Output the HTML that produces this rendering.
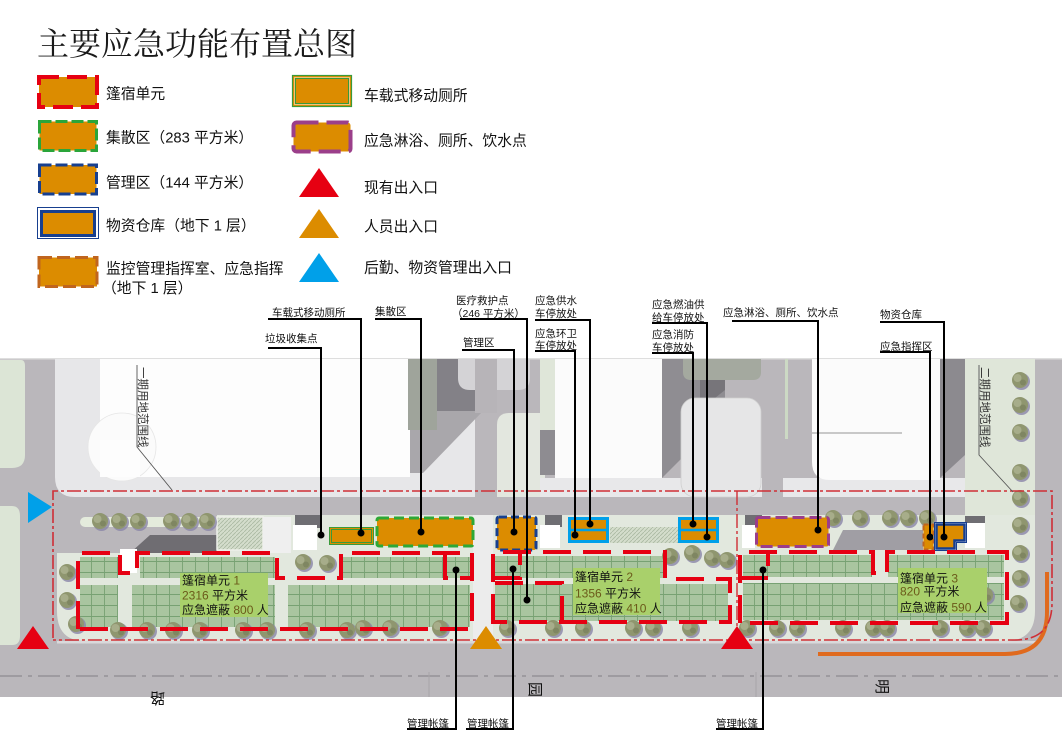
<!DOCTYPE html>
<html><head><meta charset="utf-8">
<style>
html,body{margin:0;padding:0;background:#fff;}
body{width:1062px;height:741px;overflow:hidden;}
svg{display:block;}
.t{font-family:"Liberation Sans","Noto Sans CJK SC",sans-serif;}
.s{font-family:"Liberation Sans","Noto Sans CJK SC",sans-serif;font-size:10.5px;fill:#111;}
.u{font-family:"Liberation Sans","Noto Sans CJK SC",sans-serif;font-size:12px;fill:#111;}
.n{fill:#6b5a1a;}
</style></head><body>
<svg width="1062" height="741" viewBox="0 0 1062 741" xmlns="http://www.w3.org/2000/svg">
<defs>
<pattern id="tent" width="13" height="11" patternUnits="userSpaceOnUse">
<rect width="13" height="11" fill="#a9c5a0"/>
<path d="M0.5 0V11M0 0.5H13" stroke="#77a173" stroke-width="0.9"/>
</pattern>
<pattern id="hatch" width="4" height="4" patternUnits="userSpaceOnUse">
<rect width="4" height="4" fill="#d4ddcc"/><path d="M0 4L4 0" stroke="#aab8a2" stroke-width="0.8"/>
</pattern>
<g id="tr">
<circle cx="1.5" cy="1.5" r="8.5" fill="#8a84a8" opacity="0.8"/>
<circle cx="0" cy="0" r="8" fill="#8f966f"/>
<circle cx="-2.5" cy="-2" r="4" fill="#a7ad8a"/>
<circle cx="3" cy="2.5" r="3" fill="#7f8662"/>
</g>
</defs>

<!-- Title -->
<text x="37" y="55" font-family="'Noto Serif CJK SC','Liberation Serif',serif" font-size="32" fill="#1a1a1a">主要应急功能布置总图</text>

<!-- Legend left -->
<rect x="39" y="77" width="58" height="30" fill="#dc8c00" stroke="#e60012" stroke-width="4" stroke-dasharray="20 8"/>
<text class="t" x="106" y="98.5" font-size="14.8" fill="#111">篷宿单元</text>
<rect x="39.5" y="121.5" width="57" height="29" fill="#dc8c00" stroke="#2aa53a" stroke-width="3" stroke-dasharray="12 4"/>
<text class="t" x="106" y="142.5" font-size="14.8" fill="#111">集散区（283 平方米）</text>
<rect x="39.5" y="165" width="57" height="29" fill="#dc8c00" stroke="#173f8f" stroke-width="3" stroke-dasharray="12 4"/>
<text class="t" x="106" y="187.5" font-size="14.8" fill="#111">管理区（144 平方米）</text>
<rect x="37.5" y="207.5" width="61" height="31" fill="#fff" stroke="#173f8f" stroke-width="1"/>
<rect x="41.5" y="211.5" width="53" height="24" fill="#dc8c00" stroke="#173f8f" stroke-width="3"/>
<text class="t" x="106" y="230.5" font-size="14.8" fill="#111">物资仓库（地下 1 层）</text>
<rect x="39" y="257.5" width="58" height="29" fill="#dc8c00" stroke="#c0651e" stroke-width="3" stroke-dasharray="13 5"/>
<text class="t" x="106" y="273.5" font-size="14.8" fill="#111">监控管理指挥室、应急指挥</text>
<text class="t" x="102" y="293" font-size="14.8" fill="#111">（地下 1 层）</text>

<!-- Legend right -->
<rect x="292.5" y="75.5" width="59" height="31" fill="#dc8c00" stroke="#3a9a3a" stroke-width="1.2"/>
<rect x="294.5" y="77.5" width="55" height="27" fill="none" stroke="#f2c37a" stroke-width="1"/>
<rect x="295.5" y="78.5" width="53" height="25" fill="none" stroke="#3a9a3a" stroke-width="1"/>
<text class="t" x="364" y="100.5" font-size="14.8" fill="#111">车载式移动厕所</text>
<rect x="293.5" y="122.5" width="57" height="29" rx="3" fill="#dc8c00" stroke="#9b3f8a" stroke-width="4" stroke-dasharray="22 8"/>
<text class="t" x="364" y="145.5" font-size="14.8" fill="#111">应急淋浴、厕所、饮水点</text>
<polygon points="299,197 319,168 339,197" fill="#e60012"/>
<text class="t" x="364" y="192.5" font-size="14.8" fill="#111">现有出入口</text>
<polygon points="299,238 319,209 339,238" fill="#dc8c00"/>
<text class="t" x="364" y="231.5" font-size="14.8" fill="#111">人员出入口</text>
<polygon points="299,282 319,253 339,282" fill="#00a0e9"/>
<text class="t" x="364" y="272.5" font-size="14.8" fill="#111">后勤、物资管理出入口</text>

<!-- MAP BASE -->
<rect x="0" y="358" width="1062" height="339" fill="#bab7bb"/>
<rect x="0" y="358" width="1062" height="1.5" fill="#dedede"/>
<path d="M0 360H21Q25 360 25 366V455Q25 468 12 468H0Z" fill="#dce5d6"/>
<path d="M0 506H12Q20 506 20 516V636Q20 645 12 645H0Z" fill="#dce5d6"/>
<!-- left plaza -->
<path d="M55 359H475V497H75Q55 497 55 477Z" fill="#e7e7e9"/>
<rect x="100" y="359" width="310" height="118" fill="#fdfdfd"/>
<circle cx="122" cy="447" r="34" fill="#fbfbfb" stroke="#e6e6e6" stroke-width="0.8"/>
<rect x="100" y="440" width="40" height="37" fill="#fdfdfd"/>
<!-- middle darks -->
<rect x="408" y="359" width="30" height="71" fill="#9fa49b"/>
<rect x="437" y="359" width="38" height="52" fill="#838187"/>
<path d="M437 411H483L423 473H410V430H437Z" fill="#a9a7ab"/>
<path d="M458 359H530V378Q530 390 518 390H470Q458 390 458 378Z" fill="#d4d3d6"/>
<path d="M497 425Q497 413 509 413H545V497H497Z" fill="#e3e7df"/>
<rect x="475" y="359" width="22" height="54" fill="#b7b4b8"/>
<!-- right blocks -->
<rect x="540" y="478" width="222" height="19" fill="#e8e8ea"/>
<rect x="783" y="478" width="182" height="19" fill="#e8e8ea"/>
<rect x="540" y="359" width="15" height="71" fill="#dfe6d9"/>
<rect x="540" y="430" width="15" height="45" fill="#8e8c91"/>
<rect x="555" y="359" width="107" height="119" fill="#fbfbfb"/>
<path d="M662 359H725V415L662 478Z" fill="#8f8d92"/>
<path d="M700 359H725V390L700 410Z" fill="#77757a"/>
<path d="M683 359H761V372Q761 380 753 380H691Q683 380 683 372Z" fill="#a4a99f"/>
<rect x="681" y="398" width="80" height="99" rx="14" fill="#e6e6e7" stroke="#cfcfcf" stroke-width="0.8"/>
<rect x="785" y="359" width="3" height="80" fill="#ccd9c4"/>
<path d="M812 359H940V480H830Q812 480 812 462Z" fill="#fbfbfb"/>
<path d="M812 433H902" stroke="#b8b8b8" stroke-width="1.5"/>
<path d="M940 359H965V455L940 478Z" fill="#8c8a8f"/>
<rect x="965" y="359" width="70" height="201" fill="#dfe6d9"/>

<!-- SITE -->
<path d="M57 515H1035V611Q1035 641 1005 641H85Q57 641 57 611Z" fill="#e2e8de"/>
<rect x="55" y="515" width="162" height="38" fill="#bab7bb"/>
<rect x="80" y="517" width="137" height="10" rx="5" fill="#e4ebdc"/>
<polygon points="130,553 150,535 217,535 217,553" fill="#6f6d72"/>
<rect x="217" y="517" width="46" height="33" fill="url(#hatch)" stroke="#eef0ea" stroke-width="1.5"/>
<rect x="263" y="517" width="28" height="36" fill="#efefef"/>
<rect x="473" y="515" width="20" height="125" fill="#ececec"/>
<rect x="295" y="515" width="25" height="13" fill="#6f6e73"/>
<rect x="293" y="525" width="24" height="25" fill="#fff"/>
<rect x="545" y="515" width="17" height="12" fill="#6f6e73"/>
<rect x="540" y="525" width="20" height="23" fill="#fff"/>
<rect x="610" y="527" width="68" height="16" fill="url(#hatch)"/>
<rect x="745" y="515" width="17" height="10" fill="#6f6e73"/>
<rect x="742" y="525" width="13" height="23" fill="#fff"/>
<polygon points="833,550 843,530 923,530 923,550" fill="#a09ea4"/>
<rect x="965" y="516" width="20" height="9" fill="#6f6e73"/>
<rect x="965" y="523" width="20" height="25" fill="#fff"/>
<rect x="120" y="549" width="17" height="24" fill="#fff"/>

<!-- tents -->
<rect x="80" y="557" width="38" height="21" fill="url(#tent)"/>
<rect x="140" y="557" width="135" height="21" fill="url(#tent)"/>
<rect x="343" y="557" width="127" height="21" fill="url(#tent)"/>
<rect x="80" y="585" width="38" height="42" fill="url(#tent)"/>
<rect x="132" y="585" width="143" height="42" fill="url(#tent)"/>
<rect x="288" y="585" width="182" height="42" fill="url(#tent)"/>
<rect x="495" y="556" width="168" height="22" fill="url(#tent)"/>
<rect x="495" y="584" width="233" height="37" fill="url(#tent)"/>
<rect x="743" y="555" width="129" height="22" fill="url(#tent)"/>
<rect x="888" y="555" width="116" height="22" fill="url(#tent)"/>
<rect x="743" y="583" width="261" height="37" fill="url(#tent)"/>

<!-- road bottom -->
<rect x="57" y="641" width="980" height="2.5" fill="#d9d9db"/>
<path d="M0 676H1062" stroke="#8e8a8f" stroke-width="1.2" stroke-dasharray="22 6 4 6"/>
<path d="M429 672V697M756 672V697" stroke="#a8a5a9" stroke-width="1"/>
<text class="t" x="0" y="0" font-size="15" fill="#111" transform="translate(165,693) rotate(180)">路</text>
<text class="t" x="0" y="0" font-size="15" fill="#111" transform="translate(530,682) rotate(90)">园</text>
<text class="t" x="0" y="0" font-size="15" fill="#111" transform="translate(877,679) rotate(90)">明</text>

<!-- orange curve -->
<path d="M818 654H1005Q1047 654 1047 612V572" fill="none" stroke="#e06a1e" stroke-width="4"/>

<!-- trees -->
<use href="#tr" x="100" y="521"/><use href="#tr" x="119" y="521"/><use href="#tr" x="138" y="521"/>
<use href="#tr" x="171" y="521"/><use href="#tr" x="189" y="521"/><use href="#tr" x="207" y="521"/>
<use href="#tr" x="303" y="562"/><use href="#tr" x="327" y="563"/>
<use href="#tr" x="670" y="556"/><use href="#tr" x="692" y="553"/><use href="#tr" x="712" y="558"/><use href="#tr" x="727" y="560"/>
<use href="#tr" x="833" y="518"/><use href="#tr" x="860" y="518"/><use href="#tr" x="890" y="518"/><use href="#tr" x="908" y="518"/><use href="#tr" x="927" y="518"/>
<use href="#tr" x="1020" y="380"/><use href="#tr" x="1020" y="405"/><use href="#tr" x="1020" y="432"/><use href="#tr" x="1020" y="472"/><use href="#tr" x="1020" y="498"/><use href="#tr" x="1020" y="525"/><use href="#tr" x="1020" y="553"/><use href="#tr" x="1020" y="578"/><use href="#tr" x="1018" y="603"/>
<use href="#tr" x="67" y="572"/><use href="#tr" x="67" y="600"/><use href="#tr" x="76" y="624"/>
<use href="#tr" x="118" y="630"/><use href="#tr" x="147" y="630"/><use href="#tr" x="173" y="630"/><use href="#tr" x="200" y="630"/><use href="#tr" x="243" y="630"/><use href="#tr" x="267" y="630"/><use href="#tr" x="307" y="630"/><use href="#tr" x="347" y="630"/>
<use href="#tr" x="363" y="628"/><use href="#tr" x="390" y="628"/><use href="#tr" x="440" y="628"/><use href="#tr" x="507" y="628"/><use href="#tr" x="553" y="628"/><use href="#tr" x="583" y="628"/><use href="#tr" x="633" y="628"/><use href="#tr" x="653" y="628"/><use href="#tr" x="690" y="628"/>
<use href="#tr" x="747" y="628"/><use href="#tr" x="777" y="628"/><use href="#tr" x="797" y="628"/><use href="#tr" x="843" y="628"/><use href="#tr" x="873" y="628"/><use href="#tr" x="887" y="628"/><use href="#tr" x="940" y="628"/><use href="#tr" x="967" y="628"/><use href="#tr" x="983" y="628"/>
<use href="#tr" x="960" y="598"/><use href="#tr" x="985" y="595"/>

<!-- site boundary dash-dot -->
<path d="M53 638V491H1052V603Q1052 640 1015 640H53" fill="none" stroke="#cf2e35" stroke-width="1.6" stroke-dasharray="14 3 3 3"/>
<path d="M737 491V638" fill="none" stroke="#cf2e35" stroke-width="1.4" stroke-dasharray="14 3 3 3"/>

<!-- boundary labels -->
<path d="M137 365V447L172 490" fill="none" stroke="#555" stroke-width="0.9"/>
<text class="t" x="0" y="0" font-size="11.5" fill="#333" transform="translate(139,367) rotate(90)">一期用地范围线</text>
<path d="M979 365V455L1013 492" fill="none" stroke="#555" stroke-width="0.9"/>
<text class="t" x="0" y="0" font-size="11.5" fill="#333" transform="translate(981,367) rotate(90)">二期用地范围线</text>

<!-- facility boxes -->
<rect x="329.5" y="527.5" width="44" height="17" fill="#dc8c00" stroke="#3a9a3a" stroke-width="1"/>
<rect x="331.5" y="529.5" width="40" height="13" fill="none" stroke="#3a9a3a" stroke-width="1"/>
<rect x="377" y="518" width="96" height="28" rx="2" fill="#dc8c00" stroke="#2ea836" stroke-width="3" stroke-dasharray="10 5"/>
<rect x="497" y="517" width="39" height="33" rx="2" fill="#dc8c00" stroke="#173f8f" stroke-width="3" stroke-dasharray="8 4"/>
<rect x="569.5" y="518.5" width="38" height="23" fill="#dc8c00" stroke="#00a0e9" stroke-width="3"/>
<path d="M569 530H608" stroke="#00a0e9" stroke-width="2.5"/>
<rect x="679.5" y="518.5" width="38" height="23" fill="#dc8c00" stroke="#00a0e9" stroke-width="3"/>
<path d="M679 530H718" stroke="#00a0e9" stroke-width="2.5"/>
<rect x="756.5" y="517.5" width="72" height="29" rx="2" fill="#dc8c00" stroke="#9b3d8a" stroke-width="3" stroke-dasharray="12 5"/>
<rect x="923.5" y="524.5" width="10" height="25" fill="#dc8c00" stroke="#c0651e" stroke-width="2" stroke-dasharray="5 3"/>
<path d="M934.5 522.5H966.5V542.5H956.5V550.5H934.5Z" fill="#fff" stroke="#173f8f" stroke-width="1"/>
<path d="M936.5 524.5H964.5V540.5H954.5V548.5H936.5Z" fill="#dc8c00" stroke="#173f8f" stroke-width="2.5"/>

<!-- tent units (red dashed) -->
<g fill="none" stroke="#e60012" stroke-width="4" stroke-dasharray="28 12">
<path d="M78 629V553H120V573H137V553H277V578H341V553H472V629Z"/>
<path d="M445 553V578H472"/>
<path d="M493 622V552H665V579H730V622Z"/>
<path d="M493 578H520V552"/>
<path d="M495 583H562V622"/>
<path d="M740 623V552H873V573H887V552H1007V623Z"/>
<path d="M740 578H768V552"/>
</g>

<!-- unit labels -->
<rect x="180" y="573" width="88" height="44" fill="#a9d06b"/>
<text class="u" x="182" y="584.5">篷宿单元 <tspan class="n">1</tspan></text>
<text class="u" x="182" y="599.5"><tspan class="n">2316</tspan> 平方米</text>
<text class="u" x="182" y="614">应急遮蔽 <tspan class="n">800</tspan> 人</text>
<rect x="573" y="568" width="87" height="47" fill="#a9d06b"/>
<text class="u" x="575" y="581">篷宿单元 <tspan class="n">2</tspan></text>
<text class="u" x="575" y="597.5"><tspan class="n">1356</tspan> 平方米</text>
<text class="u" x="575" y="612.5">应急遮蔽 <tspan class="n">410</tspan> 人</text>
<rect x="898" y="568" width="89" height="45" fill="#a9d06b"/>
<text class="u" x="900" y="582.5">篷宿单元 <tspan class="n">3</tspan></text>
<text class="u" x="900" y="595.5"><tspan class="n">820</tspan> 平方米</text>
<text class="u" x="900" y="611.5">应急遮蔽 <tspan class="n">590</tspan> 人</text>

<!-- map triangles -->
<polygon points="28,492 52,507 28,523" fill="#00a0e9"/>
<polygon points="17,649 33,626 49,649" fill="#e60012"/>
<polygon points="470,649 486,626 502,649" fill="#dc8c00"/>
<polygon points="721,649 737,626 753,649" fill="#e60012"/>

<!-- leader lines -->
<g fill="none" stroke="#000" stroke-width="2">
<path d="M268 319H361V533"/>
<path d="M268 348H321V535"/>
<path d="M375 319H421V532"/>
<path d="M460 319H527V600"/>
<path d="M462 350H514V532"/>
<path d="M535 320H590V524"/>
<path d="M535 351H575V535"/>
<path d="M652 323H707V537"/>
<path d="M652 353H693V524"/>
<path d="M732 321H818V530"/>
<path d="M880 322H944V537"/>
<path d="M880 352H930V537"/>
<path d="M407 729H456V570"/>
<path d="M466 729H513V569"/>
<path d="M716 729H763V570"/>
</g>
<g fill="#000">
<circle cx="321" cy="535" r="3.5"/><circle cx="361" cy="533" r="3.5"/><circle cx="421" cy="532" r="3.5"/>
<circle cx="514" cy="532" r="3.5"/><circle cx="527" cy="600" r="3.5"/><circle cx="590" cy="524" r="3.5"/>
<circle cx="575" cy="535" r="3.5"/><circle cx="707" cy="537" r="3.5"/><circle cx="693" cy="524" r="3.5"/>
<circle cx="818" cy="530" r="3.5"/><circle cx="944" cy="537" r="3.5"/><circle cx="930" cy="537" r="3.5"/>
<circle cx="456" cy="570" r="3.5"/><circle cx="513" cy="569" r="3.5"/><circle cx="763" cy="570" r="3.5"/>
</g>

<!-- leader labels -->
<text class="s" x="272" y="316">车载式移动厕所</text>
<text class="s" x="265" y="342">垃圾收集点</text>
<text class="s" x="375" y="315">集散区</text>
<text class="s" x="456" y="304">医疗救护点</text>
<text class="s" x="452" y="317">（246 平方米）</text>
<text class="s" x="463" y="346">管理区</text>
<text class="s" x="535" y="304">应急供水</text>
<text class="s" x="535" y="317">车停放处</text>
<text class="s" x="535" y="337">应急环卫</text>
<text class="s" x="535" y="349">车停放处</text>
<text class="s" x="652" y="308">应急燃油供</text>
<text class="s" x="652" y="321">给车停放处</text>
<text class="s" x="652" y="338">应急消防</text>
<text class="s" x="652" y="351">车停放处</text>
<text class="s" x="723" y="316">应急淋浴、厕所、饮水点</text>
<text class="s" x="880" y="318">物资仓库</text>
<text class="s" x="880" y="350">应急指挥区</text>
<text class="s" x="407" y="727">管理帐篷</text>
<text class="s" x="467" y="727">管理帐篷</text>
<text class="s" x="716" y="727">管理帐篷</text>
</svg>
</body></html>
